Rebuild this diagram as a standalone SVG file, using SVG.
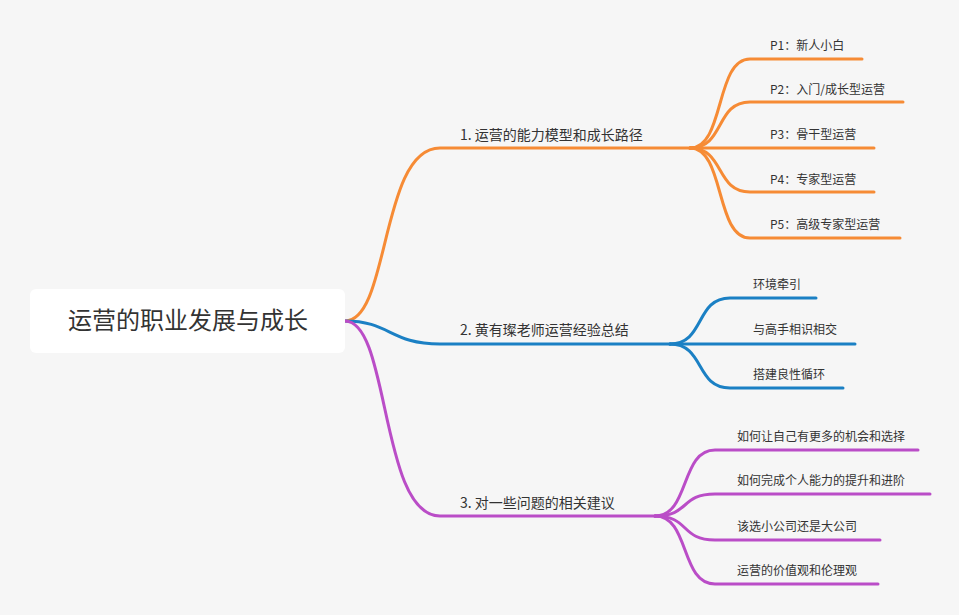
<svg xmlns="http://www.w3.org/2000/svg" width="959" height="615" viewBox="0 0 959 615">
<style>
text{font-family:"Noto Sans CJK SC","Liberation Sans",sans-serif;fill:#333}
.l1{font-size:14px}.l2{font-size:12px}
path{fill:none;stroke-width:3;stroke-linecap:round}
.o{stroke:#f68b35}.b{stroke:#1b80c4}.p{stroke:#ba4dc7}
</style>
<rect width="959" height="615" fill="#f6f6f6"/>
<g id="connectors">
<path class="o" d="M345 321 C390 321 380 148 440 148 L690 148"/>
<path class="b" d="M345 321 C390 321 390 344 440 344 L670 344"/>
<path class="p" d="M345 321 C390 321 380 516 440 516 L655 516"/>
<path class="o" d="M690 148 C725 148 715 59 750 59 L862 59"/>
<path class="o" d="M690 148 C725 148 715 102 750 102 L903 102"/>
<path class="o" d="M690 148 L874 148"/>
<path class="o" d="M690 148 C725 148 715 192 750 192 L874 192"/>
<path class="o" d="M690 148 C725 148 715 238 750 238 L900 238"/>
<path class="b" d="M670 344 C705 344 695 298 730 298 L816 298"/>
<path class="b" d="M670 344 L855 344"/>
<path class="b" d="M670 344 C705 344 695 388 730 388 L843 388"/>
<path class="p" d="M655 516 C690 516 680 450 715 450 L918 450"/>
<path class="p" d="M655 516 C690 516 680 494 715 494 L930 494"/>
<path class="p" d="M655 516 C690 516 680 540 715 540 L880 540"/>
<path class="p" d="M655 516 C690 516 680 584 715 584 L878 584"/>
</g>
<g id="root"><rect x="30" y="289" width="315" height="64" rx="6" fill="#fff"/><text x="188" y="329" font-size="24" text-anchor="middle">运营的职业发展与成长</text></g>
<g id="n1"><text class="l1" x="460" y="140">1. 运营的能力模型和成长路径</text></g>
<g id="n2"><text class="l1" x="460" y="335">2. 黄有璨老师运营经验总结</text></g>
<g id="n3"><text class="l1" x="460" y="508">3. 对一些问题的相关建议</text></g>
<g id="p1"><text class="l2" x="770" y="50">P1：新人小白</text></g>
<g id="p2"><text class="l2" x="770" y="94">P2：入门/成长型运营</text></g>
<g id="p3"><text class="l2" x="770" y="139">P3：骨干型运营</text></g>
<g id="p4"><text class="l2" x="770" y="184">P4：专家型运营</text></g>
<g id="p5"><text class="l2" x="770" y="229">P5：高级专家型运营</text></g>
<g id="b1"><text class="l2" x="753" y="289">环境牵引</text></g>
<g id="b2"><text class="l2" x="753" y="334">与高手相识相交</text></g>
<g id="b3"><text class="l2" x="753" y="379">搭建良性循环</text></g>
<g id="c1"><text class="l2" x="737" y="441">如何让自己有更多的机会和选择</text></g>
<g id="c2"><text class="l2" x="737" y="485">如何完成个人能力的提升和进阶</text></g>
<g id="c3"><text class="l2" x="737" y="531">该选小公司还是大公司</text></g>
<g id="c4"><text class="l2" x="737" y="575">运营的价值观和伦理观</text></g>
</svg>
